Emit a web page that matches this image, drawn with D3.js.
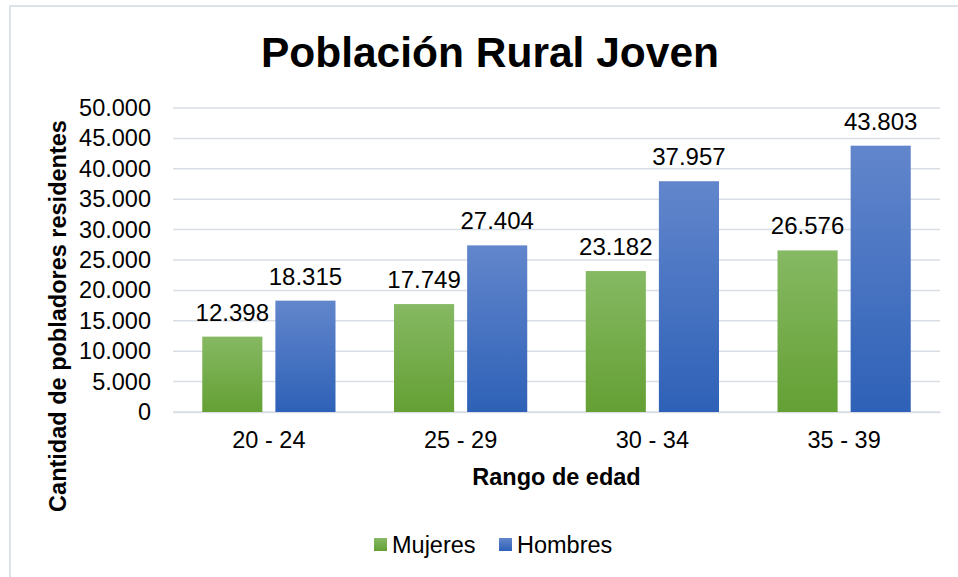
<!DOCTYPE html>
<html>
<head>
<meta charset="utf-8">
<script src="https://cdn.jsdelivr.net/npm/d3@7"></script>
<style>
  body { margin: 0; background: #fff; }
  text { font-family: "Liberation Sans", Arial, sans-serif; fill: #000; }
</style>
</head>
<body>
<div id="chart"></div>
<script>
// Data
const categories = ["20 - 24", "25 - 29", "30 - 34", "35 - 39"];
const seriesNames = ["Mujeres", "Hombres"];
const mujeres = [12398, 17749, 23182, 26576];
const hombres = [18315, 27404, 37957, 43803];
const yTicks = [0, 5000, 10000, 15000, 20000, 25000, 30000, 35000, 40000, 45000, 50000];

const width = 958, height = 577;
const margin = {top: 108, bottom: 165, left: 173, right: 18};

const svg = d3.select("#chart")
    .append("svg")
    .attr("width", width)
    .attr("height", height);

// chart border
svg.append("path")
    .attr("d", `M10,${height} L10,6 L${width},6`)
    .attr("fill", "none")
    .attr("stroke", "#dde1e8")
    .attr("stroke-width", 2);

// gradients
const defs = svg.append("defs");
const colors = {
    Mujeres: ["#86b963", "#64a034"],
    Hombres: ["#6286cc", "#2e61b7"]
};
seriesNames.forEach(name => {
    const g = defs.append("linearGradient")
        .attr("id", "grad-" + name)
        .attr("x1", 0).attr("y1", 0).attr("x2", 0).attr("y2", 1);
    g.append("stop").attr("offset", "0%").attr("stop-color", colors[name][0]);
    g.append("stop").attr("offset", "100%").attr("stop-color", colors[name][1]);
});

const plotW = width - margin.left - margin.right;
const plotH = height - margin.top - margin.bottom;

const g = svg.append("g")
    .attr("transform", `translate(${margin.left},${margin.top})`);

const x0 = d3.scaleBand()
    .domain(categories)
    .range([0, plotW]);

const x1 = d3.scaleBand()
    .domain(seriesNames)
    .range([0, x0.bandwidth()])
    .paddingInner(0.178)
    .paddingOuter(0.4);

const y = d3.scaleLinear()
    .domain([0, 50000])
    .range([plotH, 0]);

const locale = d3.formatLocale({decimal: ",", thousands: ".", grouping: [3], currency: ["", ""]});
const fmt = locale.format(",d");

// gridlines
g.selectAll(".grid")
    .data(yTicks)
    .enter().append("line")
    .attr("x1", 0)
    .attr("x2", plotW)
    .attr("y1", d => y(d))
    .attr("y2", d => y(d))
    .attr("stroke", "#d9dde4")
    .attr("stroke-width", 1.5);

// y axis labels
const yAxis = g.append("g")
    .call(d3.axisLeft(y).tickValues(yTicks).tickFormat(fmt).tickSize(0).tickPadding(22));
yAxis.select(".domain").remove();
yAxis.selectAll("text")
    .style("font-size", "23.5px")
    .style("font-family", "'Liberation Sans', Arial, sans-serif")
    .attr("fill", "#000");

// x axis
const xAxis = g.append("g")
    .attr("transform", `translate(0,${plotH})`)
    .call(d3.axisBottom(x0).tickSize(0).tickPadding(19));
xAxis.select(".domain")
    .attr("stroke", "#d9dde4")
    .attr("stroke-width", 1.5);
xAxis.selectAll("text")
    .style("font-size", "23.5px")
    .style("font-family", "'Liberation Sans', Arial, sans-serif")
    .attr("fill", "#000");

// bars
const rows = categories.map((c, i) => ({cat: c, values: [
    {name: "Mujeres", value: mujeres[i]},
    {name: "Hombres", value: hombres[i]}
]}));

const group = g.selectAll(".group")
    .data(rows)
    .enter().append("g")
    .attr("transform", d => `translate(${x0(d.cat)},0)`);

group.selectAll("rect")
    .data(d => d.values)
    .enter().append("rect")
    .attr("x", d => x1(d.name))
    .attr("y", d => y(d.value))
    .attr("width", x1.bandwidth())
    .attr("height", d => plotH - y(d.value))
    .attr("fill", d => `url(#grad-${d.name})`);

group.selectAll(".label")
    .data(d => d.values)
    .enter().append("text")
    .attr("x", d => x1(d.name) + x1.bandwidth() / 2)
    .attr("y", d => y(d.value) - 16)
    .attr("text-anchor", "middle")
    .style("font-size", "24px")
    .text(d => fmt(d.value));

// title
svg.append("text")
    .attr("x", 490)
    .attr("y", 67)
    .attr("text-anchor", "middle")
    .style("font-size", "42.5px")
    .style("font-weight", "bold")
    .text("Población Rural Joven");

// axis titles
svg.append("text")
    .attr("x", margin.left + plotW / 2)
    .attr("y", 485)
    .attr("text-anchor", "middle")
    .style("font-size", "23.5px")
    .style("font-weight", "bold")
    .text("Rango de edad");

svg.append("text")
    .attr("transform", "translate(66,316) rotate(-90)")
    .attr("text-anchor", "middle")
    .style("font-size", "23.5px")
    .style("font-weight", "bold")
    .text("Cantidad de pobladores residentes");

// legend
const legend = svg.selectAll(".legend")
    .data(seriesNames)
    .enter().append("g")
    .attr("transform", (d, i) => `translate(${i === 0 ? 374 : 499},538)`);

legend.append("rect")
    .attr("width", 13)
    .attr("height", 13)
    .attr("fill", d => `url(#grad-${d})`);

legend.append("text")
    .attr("x", 18)
    .attr("y", 15)
    .style("font-size", "23.5px")
    .text(d => d);
</script>
</body>
</html>
